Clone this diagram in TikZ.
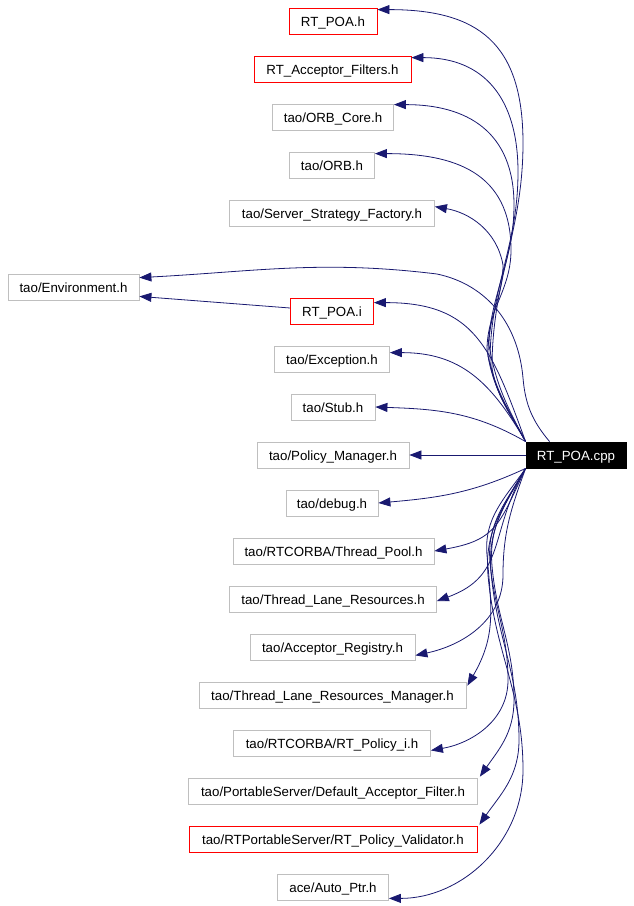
\documentclass[tikz,border=0pt]{standalone}
\usepackage{fontspec}
\setmainfont{Liberation Sans}
\usetikzlibrary{arrows.meta,calc}
\definecolor{edgeblue}{HTML}{191970}
\definecolor{boxgray}{HTML}{BFBFBF}
\begin{document}
\begin{tikzpicture}[x=1pt,y=1pt,
  box/.style={draw=boxgray, line width=0.8pt, inner sep=0pt, minimum height=26pt,
    text height=13pt, text depth=3pt, font=\fontsize{13.3}{16}\selectfont, text=black},
  redbox/.style={box, draw=red},
  rootbox/.style={box, draw=black, fill=black, text=white},
  edge/.style={draw=edgeblue, line width=0.8pt, -{Triangle[length=12pt,width=9pt]}}
]
\useasboundingbox (0,0) rectangle (634,-906);

% nodes
\node[redbox, minimum width=88pt]  (poah)    at (333,-21)  {RT\_POA.h};
\node[redbox, minimum width=157pt] (raf)     at (332.5,-69) {RT\_Acceptor\_Filters.h};
\node[box, minimum width=121pt]    (orbcore) at (333,-117) {tao/ORB\_Core.h};
\node[box, minimum width=85pt]     (orb)     at (332,-165) {tao/ORB.h};
\node[box, minimum width=205pt]    (ssf)     at (332,-213) {tao/Server\_Strategy\_Factory.h};
\node[box, minimum width=131pt]    (env)     at (73.5,-287) {tao/Environment.h};
\node[redbox, minimum width=83pt]  (rtpoai)  at (332,-311) {RT\_POA.i};
\node[box, minimum width=115pt]    (exc)     at (332,-359) {tao/Exception.h};
\node[box, minimum width=84pt]     (stub)    at (333,-407) {tao/Stub.h};
\node[box, minimum width=152pt]    (pm)      at (333,-455) {tao/Policy\_Manager.h};
\node[rootbox, minimum width=100pt] (cpp)    at (576,-455) {RT\_POA.cpp};
\node[box, minimum width=92pt]     (debug)   at (332,-503) {tao/debug.h};
\node[box, minimum width=201pt]    (tpool)   at (333.5,-551) {tao/RTCORBA/Thread\_Pool.h};
\node[box, minimum width=207pt]    (tlr)     at (333,-599) {tao/Thread\_Lane\_Resources.h};
\node[box, minimum width=165pt]    (areg)    at (332.5,-647) {tao/Acceptor\_Registry.h};
\node[box, minimum width=267pt]    (tlrm)    at (332.5,-695) {tao/Thread\_Lane\_Resources\_Manager.h};
\node[box, minimum width=197pt]    (rtpi)    at (332,-743) {tao/RTCORBA/RT\_Policy\_i.h};
\node[box, minimum width=289pt]    (daf)     at (333,-791) {tao/PortableServer/Default\_Acceptor\_Filter.h};
\node[redbox, minimum width=288pt] (rpv)     at (333,-839) {tao/RTPortableServer/RT\_Policy\_Validator.h};
\node[box, minimum width=111pt]    (autoptr) at (333,-887) {ace/Auto\_Ptr.h};

% upper bundle
\draw[edge] (cpp.north west) to[out=118,in=-80] (492,-368) to[out=90,in=-90] (523,-143)
  to[out=90,in=0,looseness=1.3] ($(poah.north east)+(0,-2)$);
\draw[edge] (cpp.north west) to[out=118,in=-80] (490,-362) to[out=90,in=-90] (518,-172)
  to[out=90,in=0,looseness=1.2] ($(raf.north east)+(0,-2)$);
\draw[edge] (cpp.north west) to[out=118,in=-80] (488,-356) to[out=90,in=-90] (514,-205)
  to[out=90,in=0,looseness=1.2] ($(orbcore.north east)+(0,-1)$);
\draw[edge] (cpp.north west) to[out=118,in=-80] (487,-350) to[out=90,in=-90] (511,-250)
  to[out=90,in=0,looseness=1.2] ($(orb.north east)+(0,-2)$);
\draw[edge] (cpp.north west) to[out=118,in=-80] (489,-345) to[out=90,in=-90] (503,-265)
  to[out=100,in=-10] ($(ssf.north east)+(0,-7)$);
% environment
\draw[edge] ($(cpp.north west)+(24,0)$) to[out=130,in=-85] (523,-378)
  to[out=95,in=-12] (437,-274) to[out=173,in=3] ($(env.north east)+(0,-4)$);
\draw[edge] ($(rtpoai.west)+(0,3)$) -- ($(env.south east)+(0,4)$);
% middle
\draw[edge] (cpp.north west) to[out=110,in=0,looseness=1.25] ($(rtpoai.north east)+(0,-5)$);
\draw[edge] (cpp.north west) to[out=120,in=0,looseness=1.1] ($(exc.north east)+(0,-7)$);
\draw[edge] (cpp.north west) to[out=150,in=-2] (stub.east);
\draw[edge] (cpp.west) -- (pm.east);
% lower
\draw[edge] (cpp.south west) to[out=205,in=5] (debug.east);
\draw[edge] (cpp.south west) to[out=245,in=10,looseness=1.3] (tpool.east);
\draw[edge] (cpp.south west) to[out=240,in=20,looseness=1.2] ($(tlr.east)+(0,-2)$);
\draw[edge] (cpp.south west) to[out=250,in=90] (503,-575)
  to[out=-90,in=12] ($(areg.south east)+(0,5)$);
\draw[edge] (cpp.south west) to[out=235,in=95] (487,-555)
  to[out=-85,in=60,looseness=1.1] ($(tlrm.north east)+(1,-4)$);
\draw[edge] (cpp.south west) to[out=240,in=95] (490,-562) to[out=-85,in=90] (508,-680)
  to[out=-90,in=10] ($(rtpi.south east)+(0,6)$);
\draw[edge] (cpp.south west) to[out=240,in=95] (492,-566) to[out=-85,in=90] (514,-700)
  to[out=-90,in=55] ($(daf.north east)+(2,1)$);
\draw[edge] (cpp.south west) to[out=240,in=95] (491,-572) to[out=-85,in=90] (519,-740)
  to[out=-90,in=55] ($(rpv.north east)+(2,1)$);
\draw[edge] (cpp.south west) to[out=240,in=95] (488,-575) to[out=-85,in=90] (523,-770)
  to[out=-90,in=0] ($(autoptr.south east)+(0,2)$);
\end{tikzpicture}
\end{document}
